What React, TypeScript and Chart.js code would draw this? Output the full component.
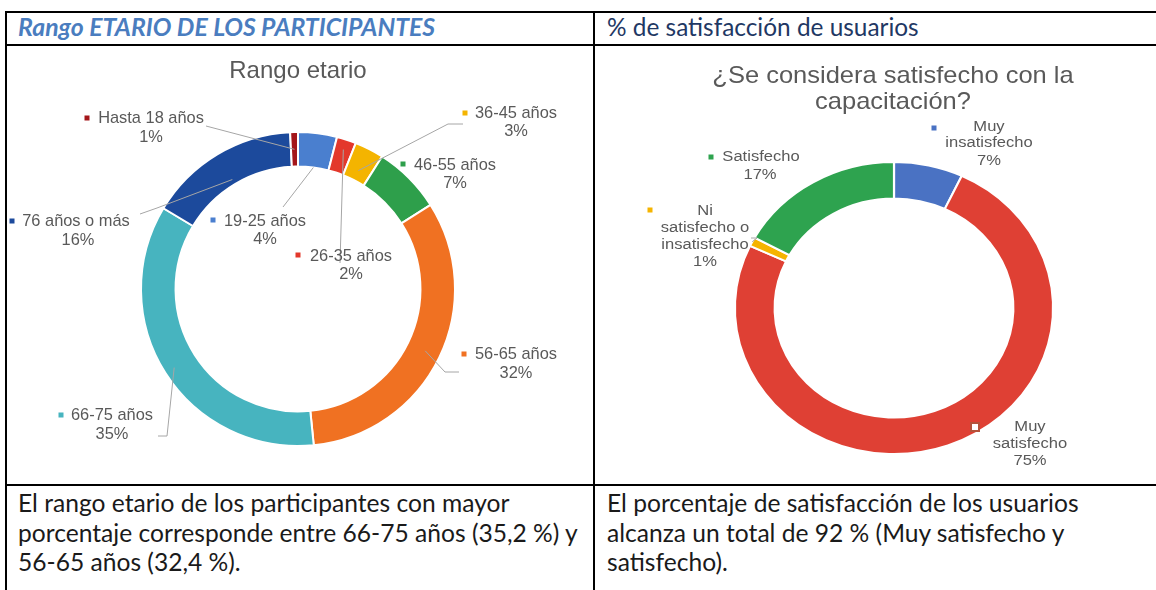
import React, { useEffect, useRef } from "react";
import { Chart, registerables } from "chart.js";

Chart.register(...registerables);

// ---------- DATA ----------
const ageCategories = [
  "19-25 años",
  "26-35 años",
  "36-45 años",
  "46-55 años",
  "56-65 años",
  "66-75 años",
  "76 años o más",
  "Hasta 18 años",
];
const ageValues = [4, 2, 3, 7, 32.4, 35.2, 15.6, 0.8];
const ageColors = ["#4a7fcf", "#e3382b", "#f4b400", "#2e9f4b", "#f07122", "#47b4bf", "#1c4a9c", "#a4161a"];

const satCategories = ["Muy insatisfecho", "Muy satisfecho", "Ni satisfecho o insatisfecho", "Satisfecho"];
const satValues = [7, 75, 1, 17];
const satColors = ["#4a72c3", "#df4034", "#f5b400", "#2ea34f"];

const ageTitle = ["Rango etario"];
const satTitle = ["¿Se considera satisfecho con la", "capacitación?"];

const headerLeft = "Rango ETARIO DE LOS PARTICIPANTES";
const headerRight = "% de satisfacción de usuarios";
const bodyLeft = [
  "El rango etario de los participantes con mayor",
  "porcentaje corresponde entre 66-75 años (35,2 %) y",
  "56-65 años (32,4 %).",
];
const bodyRight = [
  "El porcentaje de satisfacción de los usuarios",
  "alcanza un total de 92 % (Muy satisfecho y",
  "satisfecho).",
];

// ---------- LAYOUT (page coordinates) ----------
type LabelLayout = {
  marker: [number, number];
  hollow?: boolean;
  lines: [number, number][];
  split?: number[];
  leader?: [number, number][];
  t?: number;
};

const ageLabelLayout: LabelLayout[] = [
  { marker: [213, 220], lines: [[265, 221], [265, 239]], leader: [[283, 207]], t: 0 },
  { marker: [298, 255], lines: [[351, 256], [351, 274]], leader: [[340, 263]], t: 0.7 },
  { marker: [465, 113], lines: [[516, 113], [516, 131]], leader: [[463, 124], [448, 124]], t: 0.3 },
  { marker: [403, 164], lines: [[455, 165], [455, 183]] },
  { marker: [464, 354], lines: [[516, 354], [516, 373]], leader: [[459, 372], [445, 372]], t: 0.55 },
  { marker: [61, 415], lines: [[112, 415], [112, 434]], leader: [[158, 436], [167, 436]], t: 0.7 },
  { marker: [12, 221], lines: [[76, 221], [78, 240]], leader: [[140, 214], [157, 208]], t: 0.15 },
  { marker: [87, 118], lines: [[151, 118], [151, 137]], leader: [[206, 126]], t: 0.5 },
];

const satLabelLayout: LabelLayout[] = [
  { marker: [934, 128], lines: [[989, 127], [989, 143], [989, 161]], split: [1, 1] },
  { marker: [975, 427], hollow: true, lines: [[1030, 427], [1030, 444], [1030, 461]], split: [1, 1] },
  {
    marker: [650, 210],
    lines: [[705, 211], [705, 228], [705, 245], [705, 262]],
    split: [1, 2, 1],
    leader: [[751, 238], [757, 238]],
    t: 1,
  },
  { marker: [711, 157], lines: [[761, 157], [760, 175]], split: [1] },
];

type TextStyle = { label: string; title: string; sx: number };
const ageText: TextStyle = {
  label: "16.4px 'Liberation Sans', Arial, sans-serif",
  title: "24px 'Liberation Sans', Arial, sans-serif",
  sx: 1,
};
const satText: TextStyle = {
  label: "15.2px 'Liberation Sans', Arial, sans-serif",
  title: "23.4px 'Liberation Sans', Arial, sans-serif",
  sx: 1.09,
};
const textGray = "#595959";
const leaderGray = "#a6a6a6";

function splitLines(name: string, split?: number[]): string[] {
  if (!split) return [name];
  const words = name.split(" ");
  const out: string[] = [];
  let k = 0;
  for (const n of split) {
    out.push(words.slice(k, k + n).join(" "));
    k += n;
  }
  if (k < words.length) out[out.length - 1] += " " + words.slice(k).join(" ");
  return out;
}

function centerX(chart: any) {
  const a = chart.chartArea;
  return (a.left + a.right) / 2;
}

// horizontal stretch of the ring (the source picture is slightly widened)
function makeStretchPlugin(id: string, sx: number) {
  return {
    id,
    beforeDatasetsDraw(chart: any) {
      const ctx = chart.ctx;
      const cx = centerX(chart);
      ctx.save();
      ctx.translate(cx, 0);
      ctx.scale(sx, 1);
      ctx.translate(-cx, 0);
    },
    afterDatasetsDraw(chart: any) {
      chart.ctx.restore();
    },
  };
}

function makeLabelPlugin(
  id: string,
  offX: number,
  offY: number,
  layout: LabelLayout[],
  title: string[],
  titlePos: [number, number][],
  style: TextStyle,
  ringSx: number
) {
  const drawText = (ctx: CanvasRenderingContext2D, t: string, x: number, y: number) => {
    ctx.save();
    ctx.translate(x, y);
    ctx.scale(style.sx, 1);
    ctx.fillText(t, 0, 0);
    ctx.restore();
  };
  return {
    id,
    afterDraw(chart: any) {
      const ctx: CanvasRenderingContext2D = chart.ctx;
      const meta = chart.getDatasetMeta(0);
      const data: number[] = chart.data.datasets[0].data;
      const colors: string[] = chart.data.datasets[0].backgroundColor;
      const names: string[] = chart.data.labels;
      const total = data.reduce((a, b) => a + b, 0);
      ctx.save();
      ctx.fillStyle = textGray;
      ctx.font = style.title;
      ctx.textAlign = "center";
      ctx.textBaseline = "middle";
      title.forEach((t, i) => drawText(ctx, t, titlePos[i][0] - offX, titlePos[i][1] - offY));

      layout.forEach((lay, i) => {
        const arc = meta.data[i];
        if (!arc || !lay.leader) return;
        const p = arc.getProps(["x", "y", "startAngle", "endAngle", "innerRadius", "outerRadius"], true);
        const mid = (p.startAngle + p.endAngle) / 2;
        const r = p.innerRadius + (lay.t ?? 0.5) * (p.outerRadius - p.innerRadius);
        const ax = p.x + Math.cos(mid) * r * ringSx;
        const ay = p.y + Math.sin(mid) * r;
        ctx.strokeStyle = leaderGray;
        ctx.lineWidth = 1;
        ctx.beginPath();
        lay.leader.forEach((pt, j) => {
          if (j === 0) ctx.moveTo(pt[0] - offX, pt[1] - offY);
          else ctx.lineTo(pt[0] - offX, pt[1] - offY);
        });
        ctx.lineTo(ax, ay);
        ctx.stroke();
      });

      layout.forEach((lay, i) => {
        const lines = splitLines(names[i], lay.split);
        lines.push(Math.round((data[i] / total) * 100) + "%");
        ctx.fillStyle = textGray;
        ctx.font = style.label;
        ctx.textAlign = "center";
        ctx.textBaseline = "middle";
        lines.forEach((l, j) => {
          const pos = lay.lines[j] || lay.lines[lay.lines.length - 1];
          drawText(ctx, l, pos[0] - offX, pos[1] - offY);
        });
        const mx = lay.marker[0] - offX;
        const my = lay.marker[1] - offY;
        if (lay.hollow) {
          ctx.fillStyle = "#ffffff";
          ctx.fillRect(mx - 4, my - 4, 8, 8);
          ctx.strokeStyle = "#b5523b";
          ctx.lineWidth = 2;
          ctx.strokeRect(mx - 4, my - 4, 8, 8);
        } else {
          ctx.fillStyle = colors[i];
          ctx.fillRect(mx - 2.5, my - 2.5, 5, 5);
        }
      });
      ctx.restore();
    },
  };
}

type DonutProps = {
  left: number;
  top: number;
  width: number;
  height: number;
  labels: string[];
  values: number[];
  colors: string[];
  cutout: string;
  padding: { left: number; top: number; right: number; bottom: number };
  layout: LabelLayout[];
  title: string[];
  titlePos: [number, number][];
  text: TextStyle;
  ringSx: number;
  pid: string;
};

function Donut(props: DonutProps) {
  const ref = useRef<HTMLCanvasElement>(null);
  useEffect(() => {
    if (!ref.current) return;
    const chart = new Chart(ref.current, {
      type: "doughnut",
      data: {
        labels: props.labels,
        datasets: [
          {
            data: props.values,
            backgroundColor: props.colors,
            borderColor: "#ffffff",
            borderWidth: 2,
            hoverOffset: 0,
          },
        ],
      },
      options: {
        animation: false,
        responsive: false,
        maintainAspectRatio: false,
        cutout: props.cutout,
        rotation: 0,
        layout: { padding: props.padding },
        plugins: { legend: { display: false }, tooltip: { enabled: false }, title: { display: false } },
        events: [],
      },
      plugins: [
        makeStretchPlugin(props.pid + "Stretch", props.ringSx),
        makeLabelPlugin(
          props.pid,
          props.left,
          props.top,
          props.layout,
          props.title,
          props.titlePos,
          props.text,
          props.ringSx
        ),
      ],
    } as any);
    return () => chart.destroy();
  }, []);
  return (
    <canvas
      ref={ref}
      width={props.width}
      height={props.height}
      style={{ position: "absolute", left: props.left, top: props.top, width: props.width, height: props.height }}
    />
  );
}

const line = (l: number, t: number, w: number, h: number) => (
  <div style={{ position: "absolute", left: l, top: t, width: w, height: h, background: "#000" }} />
);

export default function App() {
  const bodyFont = "'Lato', 'Noto Sans', sans-serif";
  return (
    <div
      style={{
        position: "fixed",
        left: 0,
        top: 0,
        width: 1156,
        height: 590,
        overflow: "hidden",
        background: "#fff",
      }}
    >
      {line(5, 11, 1151, 2)}
      {line(5, 44, 1151, 2)}
      {line(5, 484, 1151, 2)}
      {line(5, 11, 2, 579)}
      {line(593, 11, 2, 579)}

      <div
        style={{
          position: "absolute",
          left: 18,
          top: 12,
          height: 33,
          lineHeight: "33px",
          font: `italic bold 24.8px ${bodyFont}`,
          color: "#4a7dbf",
          whiteSpace: "nowrap",
        }}
      >
        {headerLeft}
      </div>
      <div
        style={{
          position: "absolute",
          left: 607,
          top: 12,
          height: 33,
          lineHeight: "33px",
          font: `24.4px ${bodyFont}`,
          color: "#1f3864",
          whiteSpace: "nowrap",
        }}
      >
        {headerRight}
      </div>

      <Donut
        pid="ageLabels"
        left={7}
        top={46}
        width={586}
        height={438}
        labels={ageCategories}
        values={ageValues}
        colors={ageColors}
        cutout="78%"
        padding={{ left: 133, top: 85, right: 137, bottom: 37 }}
        layout={ageLabelLayout}
        title={ageTitle}
        titlePos={[[298, 71]]}
        text={ageText}
        ringSx={1}
      />
      <Donut
        pid="satLabels"
        left={595}
        top={46}
        width={561}
        height={438}
        labels={satCategories}
        values={satValues}
        colors={satColors}
        cutout="75%"
        padding={{ left: 152, top: 115, right: 115, bottom: 29 }}
        layout={satLabelLayout}
        title={satTitle}
        titlePos={[[893, 77], [893, 103]]}
        text={satText}
        ringSx={1.09}
      />

      <div
        style={{
          position: "absolute",
          left: 18,
          top: 488,
          font: `24.6px ${bodyFont}`,
          lineHeight: "29.5px",
          color: "#1a1a1a",
          whiteSpace: "nowrap",
        }}
      >
        {bodyLeft.map((t, i) => (
          <div key={i}>{t}</div>
        ))}
      </div>
      <div
        style={{
          position: "absolute",
          left: 607,
          top: 488,
          font: `24.6px ${bodyFont}`,
          lineHeight: "29.5px",
          color: "#1a1a1a",
          whiteSpace: "nowrap",
        }}
      >
        {bodyRight.map((t, i) => (
          <div key={i}>{t}</div>
        ))}
      </div>
    </div>
  );
}
